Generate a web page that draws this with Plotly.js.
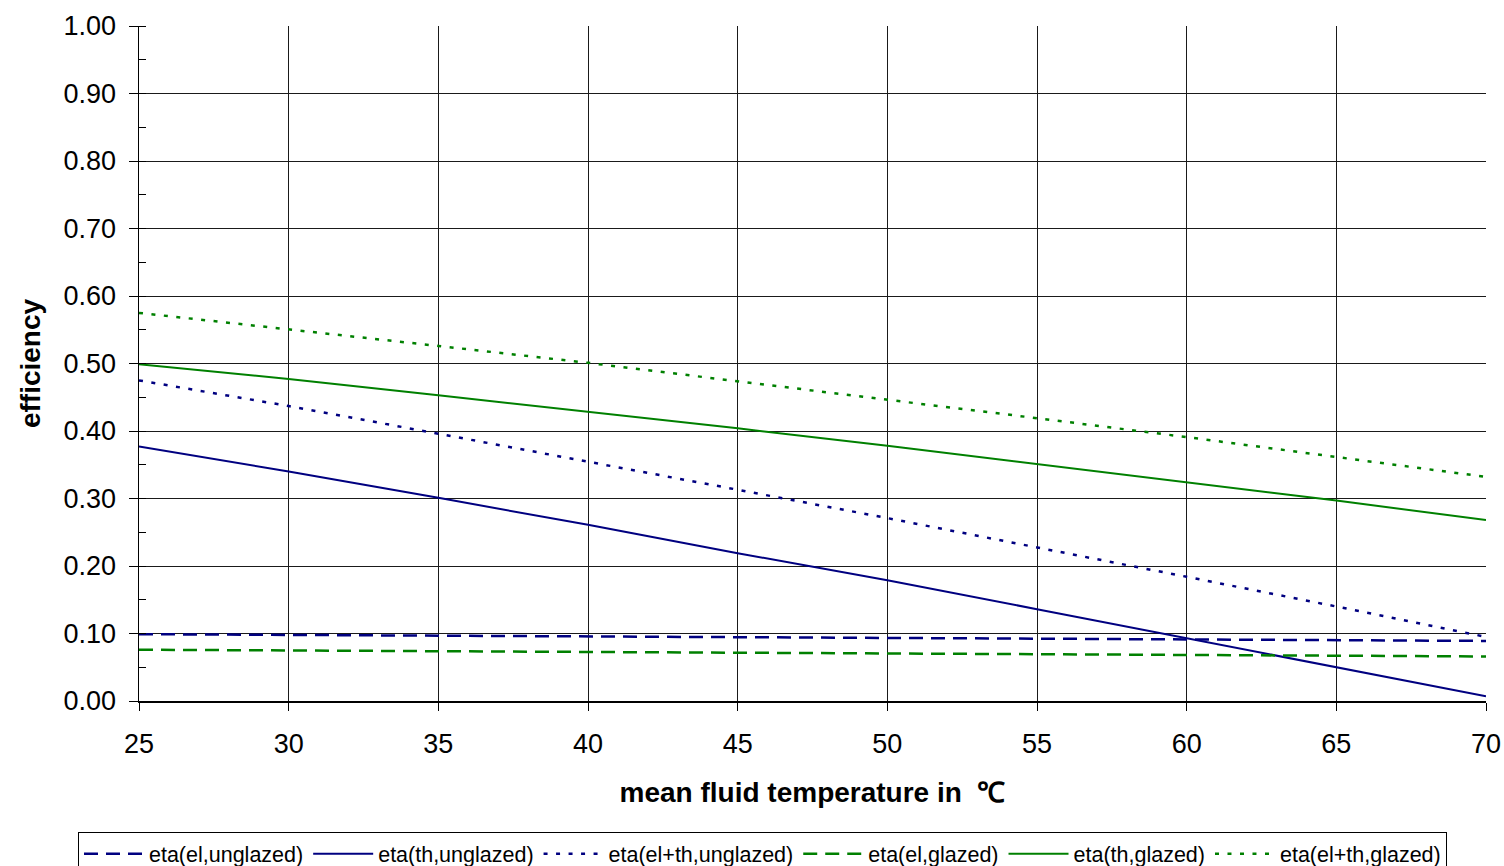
<!DOCTYPE html>
<html>
<head>
<meta charset="utf-8">
<script src="https://cdn.plot.ly/plotly-3.0.1.min.js"></script>
<style>html,body{margin:0;padding:0;background:#fff;}#chart{width:1504px;height:866px;}</style>
</head>
<body>
<div id="chart"></div>
<script>
// mean fluid temperature in °C
const temps = [25, 30, 35, 40, 45, 50, 55, 60, 65, 70];
const etaElUnglazed   = [0.099, 0.098, 0.097, 0.096, 0.095, 0.093, 0.092, 0.091, 0.090, 0.089];
const etaThUnglazed   = [0.377, 0.340, 0.301, 0.261, 0.219, 0.179, 0.136, 0.093, 0.050, 0.007];
const etaElThUnglazed = [0.475, 0.437, 0.396, 0.355, 0.313, 0.271, 0.228, 0.184, 0.140, 0.095];
const etaElGlazed     = [0.076, 0.075, 0.073, 0.072, 0.071, 0.070, 0.069, 0.068, 0.067, 0.066];
const etaThGlazed     = [0.499, 0.477, 0.453, 0.429, 0.404, 0.378, 0.351, 0.324, 0.297, 0.268];
const etaElThGlazed   = [0.575, 0.551, 0.526, 0.501, 0.474, 0.447, 0.419, 0.391, 0.362, 0.332];
const seriesNames = ['eta(el,unglazed)', 'eta(th,unglazed)', 'eta(el+th,unglazed)',
                     'eta(el,glazed)', 'eta(th,glazed)', 'eta(el+th,glazed)'];

const BLUE = '#000080', GREEN = '#008000';
const DASH = '14px,8px', DOT = '4px,8.5px';
const FONT = '"Liberation Sans", Arial, sans-serif';

function tr(y, name, color, dash, width) {
  return {x: temps, y: y, name: name, type: 'scatter', mode: 'lines',
          line: {color: color, dash: dash, width: width}};
}
const data = [
  tr(etaElUnglazed, seriesNames[0], BLUE, DASH, 2.5),
  tr(etaThUnglazed, seriesNames[1], BLUE, 'solid', 2),
  tr(etaElThUnglazed, seriesNames[2], BLUE, DOT, 2.5),
  tr(etaElGlazed, seriesNames[3], GREEN, DASH, 2.5),
  tr(etaThGlazed, seriesNames[4], GREEN, 'solid', 2),
  tr(etaElThGlazed, seriesNames[5], GREEN, DOT, 2.5)
];

const layout = {
  width: 1504, height: 866,
  margin: {l: 139, r: 18, t: 26, b: 165, pad: 0, autoexpand: false},
  paper_bgcolor: '#fff', plot_bgcolor: '#fff',
  font: {family: FONT, color: '#000', size: 24},
  showlegend: true,
  legend: {
    orientation: 'h', x: -0.0453, xanchor: 'left', y: -0.1945, yanchor: 'top',
    bordercolor: '#000', borderwidth: 1, bgcolor: '#fff',
    font: {family: FONT, size: 21.5, color: '#000'},
    itemwidth: 60, tracegroupgap: 0, traceorder: 'normal'
  },
  xaxis: {
    range: [25, 70], dtick: 5, tick0: 25,
    showgrid: true, gridcolor: '#1a1a1a', gridwidth: 1,
    showline: true, linecolor: '#000', linewidth: 1.5, mirror: false,
    ticks: 'outside', ticklen: 8, tickcolor: '#000', tickwidth: 1,
    ticklabelstandoff: 10,
    tickfont: {family: FONT, size: 27}, zeroline: false,
    title: {text: '<b>mean fluid temperature in  ℃</b>', font: {family: FONT, size: 28}, standoff: 24}
  },
  yaxis: {
    range: [0, 1], dtick: 0.1, tickformat: '.2f',
    showgrid: true, gridcolor: '#1a1a1a', gridwidth: 1,
    showline: true, linecolor: '#000', linewidth: 1.5,
    ticks: 'outside', ticklen: 9, tickcolor: '#000', tickwidth: 1,
    ticklabelstandoff: 7,
    minor: {dtick: 0.05, ticks: 'inside', ticklen: 7, tickcolor: '#000', tickwidth: 1, showgrid: false},
    tickfont: {family: FONT, size: 27}, zeroline: false,
    title: {text: '<b>efficiency</b>', font: {family: FONT, size: 28}, standoff: 14}
  }
};

Plotly.newPlot('chart', data, layout, {displayModeBar: false, staticPlot: true});
</script>
</body>
</html>
